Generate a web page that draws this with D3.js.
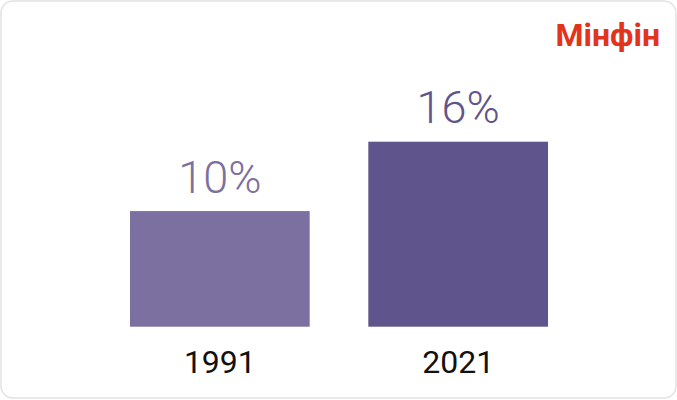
<!DOCTYPE html>
<html>
<head>
<meta charset="utf-8">
<script src="https://cdn.jsdelivr.net/npm/d3@7"></script>
<style>
  body { margin: 0; background: #fff; }
  svg { display: block; font-family: Roboto, sans-serif; }
</style>
</head>
<body>
<div id="viz"></div>
<script>
var years = ["1991", "2021"];
var shares = [10, 16];
var barColors = ["#7b70a0", "#5f558c"];
var labelColors = ["#7b70a0", "#5f558c"];

var width = 677, height = 400;

var svg = d3.select('#viz')
	.append('svg')
		.attr('width', width)
		.attr('height', height);

// card frame
svg.append('rect')
	.attr('x', 1).attr('y', 1)
	.attr('width', width - 2).attr('height', height - 3)
	.attr('rx', 12).attr('ry', 12)
	.style('fill', '#fff')
	.style('stroke', '#e2e2e2')
	.style('stroke-width', 1.5);

// logo
svg.append('text')
	.attr('x', 660).attr('y', 46)
	.attr('text-anchor', 'end')
	.style('font-size', '32px')
	.style('font-weight', 700)
	.style('fill', '#e2341d')
	.text('Мінфін');

var x = d3.scaleBand()
	.domain(years)
	.range([130, 548])
	.paddingInner(0.246)
	.paddingOuter(0);

var y = d3.scaleLinear()
	.domain([0, 16])
	.range([326.7, 141.7]);

var bars = svg.append('g');

bars.selectAll('rect')
	.data(shares)
	.enter().append('rect')
		.attr('x', function(d, i) { return x(years[i]); })
		.attr('y', function(d) { return y(d); })
		.attr('width', x.bandwidth())
		.attr('height', function(d) { return y(0) - y(d); })
		.style('fill', function(d, i) { return barColors[i]; });

bars.selectAll('text.val')
	.data(shares)
	.enter().append('text')
		.attr('class', 'val')
		.attr('x', function(d, i) { return x(years[i]) + x.bandwidth() / 2; })
		.attr('y', function(d) { return y(d) - 18.5; })
		.attr('text-anchor', 'middle')
		.style('font-size', '45px')
		.style('font-weight', 300)
		.style('fill', function(d, i) { return labelColors[i]; })
		.text(function(d) { return d + '%'; });

// x axis labels only
var axis = svg.append('g')
	.attr('transform', 'translate(0,' + y(0) + ')')
	.call(d3.axisBottom(x).tickSize(0).tickPadding(0));
axis.select('.domain').remove();
axis.selectAll('text')
	.attr('y', 46.6)
	.attr('dy', 0)
	.style('font-family', 'Roboto, sans-serif')
	.style('font-size', '32px')
	.style('fill', '#111');
</script>
</body>
</html>
